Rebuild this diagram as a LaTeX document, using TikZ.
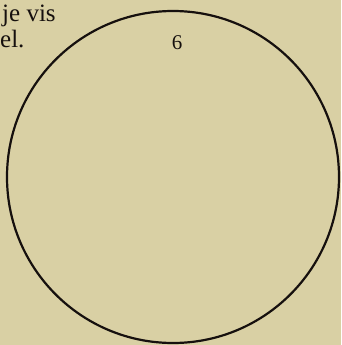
\documentclass[tikz,border=0pt]{standalone}
\usepackage{fontspec}
\setmainfont{Liberation Serif}
\usepackage{tikz}

\definecolor{paper}{RGB}{217,208,164}
\definecolor{ink}{RGB}{22,16,14}

\begin{document}
\begin{tikzpicture}[
    x=1pt, y=-1pt,
    margintext/.style={anchor=base west, inner sep=0pt, font=\fontsize{25}{28}\selectfont, text=ink},
    platenum/.style={anchor=base, inner sep=0pt, font=\fontsize{21}{24}\selectfont, text=ink},
    rim/.style={draw=ink, line width=2.2pt}
]
\fill[paper] (0,0) rectangle (341,345);
\useasboundingbox (0,0) rectangle (341,345);

% margin text cut off at the left
\node[margintext] (line1) at (2,22) {je vis};
\node[margintext] (line2) at (0,48) {el.};

% the circle and its number
\draw[rim] (173,177) circle[radius=166];
\node[platenum] (num) at (177,50) {6};
\end{tikzpicture}
\end{document}
